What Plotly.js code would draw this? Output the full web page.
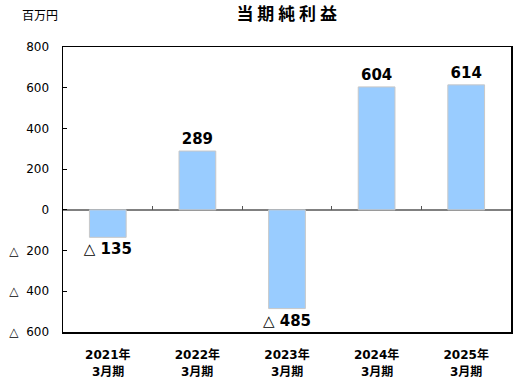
<!DOCTYPE html>
<html><head><meta charset="utf-8">
<script src="https://cdn.plot.ly/plotly-3.0.1.min.js"></script>
<style>html,body{margin:0;padding:0;background:#fff;}#c{width:531px;height:380px;}</style>
</head><body><div id="c"></div>
<script>
const categories = ["2021年","2022年","2023年","2024年","2025年"];
const periods = ["3月期","3月期","3月期","3月期","3月期"];
const values = [-135, 289, -485, 604, 614];
const labels = ["△ 135","289","△ 485","604","614"];
const yTickVals = [800,600,400,200,0,-200,-400,-600];
const yTickText = ["800","600","400","200","0","△  200","△  400","△  600"];
const title = "当 期 純 利 益";
const unit = "百万円";

const yMin = -600, yMax = 800;
const jp = "DejaVu Sans, 'Noto Sans CJK JP', sans-serif";

const data = [
  {type:'bar', x:categories, y:values, text:labels, textposition:'outside', constraintext:'none',
   textfont:{family:jp, size:15, color:'#000', weight:'bold'},
   marker:{color:'#99CCFF', line:{color:'#C8C8C8', width:1}},
   width:0.41, cliponaxis:false, hoverinfo:'none'},
  {type:'scatter', mode:'markers', x:categories, y:values.map(()=>0), xaxis:'x2', yaxis:'y',
   showlegend:false, hoverinfo:'none', marker:{opacity:0, size:1}}
];
const annotations = periods.map((p,i)=>({text:p, xref:'x', yref:'paper', x:categories[i], y:0, yshift:-40,
  yanchor:'middle', showarrow:false, font:{family:jp, size:12, color:'#000', weight:'bold'}}));
annotations.push({text:unit, xref:'paper', yref:'paper', x:-0.095, xanchor:'left', y:1.115, yanchor:'middle',
  showarrow:false, font:{family:"'Noto Sans CJK JP', sans-serif", size:12, color:'#000'}});

const layout = {
  width:531, height:380, margin:{l:63, r:20, t:47, b:48},
  paper_bgcolor:'#fff', plot_bgcolor:'#fff', showlegend:false,
  title:{text:title, font:{family:"'Noto Sans CJK JP', sans-serif", size:17, color:'#000', weight:'bold'},
         x:0.54, xanchor:'center', y:0.963, yanchor:'middle'},
  xaxis:{type:'category', showline:true, linecolor:'#000', linewidth:1.5, mirror:true,
         ticks:'', showgrid:false, tickfont:{family:jp, size:12, color:'#000', weight:'bold'},
         ticklabelstandoff:11, zeroline:false},
  xaxis2:{type:'category', overlaying:'x', matches:'x', anchor:'free', position:(0-yMin)/(yMax-yMin),
          side:'bottom', showline:false, showticklabels:false, ticks:'inside', ticklen:4,
          tickcolor:'#555', tickson:'boundaries', showgrid:false, zeroline:false},
  yaxis:{range:[yMin,yMax], tickvals:yTickVals, ticktext:yTickText, showgrid:false,
         showline:true, linecolor:'#000', linewidth:1.5, mirror:true,
         ticks:'inside', ticklen:4, tickcolor:'#000', ticklabelstandoff:10,
         zeroline:true, zerolinecolor:'#808080', zerolinewidth:1.5,
         tickfont:{family:jp, size:12, color:'#000'}},
  annotations:annotations
};
Plotly.newPlot('c', data, layout, {staticPlot:true});
</script></body></html>
